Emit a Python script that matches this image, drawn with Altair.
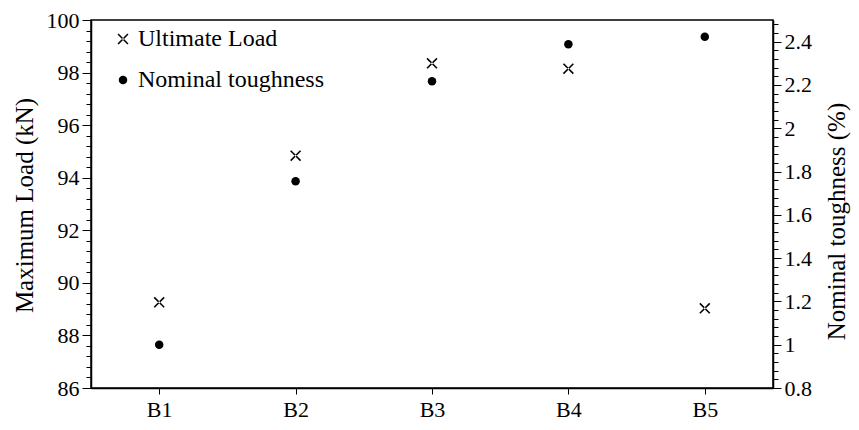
import altair as alt
import pandas as pd

categories = ["B1", "B2", "B3", "B4", "B5"]
ultimate_load = [89.26, 94.84, 98.35, 98.15, 89.03]
nominal_toughness = [1.00, 1.755, 2.217, 2.388, 2.423]
series_names = ["Ultimate Load", "Nominal toughness"]

left_ticks = [round(86 + 0.4 * i, 2) for i in range(36)]
right_ticks = [round(0.8 + 0.04 * i, 2) for i in range(43)]

df_load = pd.DataFrame({"cat": categories, "val": ultimate_load, "series": series_names[0]})
df_tough = pd.DataFrame({"cat": categories, "val": nominal_toughness, "series": series_names[1]})

FONT = "Times New Roman, Liberation Serif, serif"
XPATH = "M-1,-0.8L-0.8,-1L1,0.8L0.8,1Z M1,-0.8L0.8,-1L-1,0.8L-0.8,1Z"

shape_scale = alt.Scale(domain=series_names, range=[XPATH, "circle"])
size_scale = alt.Scale(domain=series_names, range=[121, 72])
legend = alt.Legend(
    title=None, orient="none", legendX=20, legendY=7, padding=0,
    labelFont=FONT, labelFontSize=24, labelColor="black", labelOffset=3,
    labelLimit=0, symbolFillColor="black", symbolStrokeWidth=0,
    symbolOpacity=1, rowPadding=17,
)

x_enc = alt.X("cat:N", sort=categories, title=None,
              scale=alt.Scale(paddingInner=0, paddingOuter=0),
              axis=alt.Axis(labelAngle=0, labelFont=FONT, labelFontSize=22,
                            labelColor="black", tickSize=6, tickColor="black",
                            labelPadding=5, domainColor="black", domainWidth=1.5))

major_left = "abs(datum.value/2 - round(datum.value/2)) < 0.01"
major_right = "abs(datum.value/0.2 - round(datum.value/0.2)) < 0.01"

shape_enc = alt.Shape("series:N", scale=shape_scale, legend=legend)
size_enc = alt.Size("series:N", scale=size_scale, legend=legend)

load_layer = alt.Chart(df_load).mark_point(
    filled=True, color="black", opacity=1
).encode(
    x=x_enc,
    y=alt.Y("val:Q", scale=alt.Scale(domain=[86, 100], zero=False, nice=False),
            axis=alt.Axis(orient="left", values=left_ticks,
                          labelExpr=major_left + " ? format(datum.value, '~g') : ''",
                          tickSize={"condition": {"test": major_left, "value": 9}, "value": 5},
                          labelFont=FONT, labelFontSize=22, labelColor="black",
                          labelPadding=3, labelOverlap=False, tickColor="black",
                          domainColor="black", domainWidth=1.5, grid=False,
                          title="Maximum Load (kN)", titleFont=FONT, titleFontSize=25,
                          titleFontWeight="normal", titleColor="black", titleAngle=270,
                          titleX=-67, titleY=185, titleAlign="center", titleBaseline="middle")),
    shape=shape_enc,
    size=size_enc,
)

tough_layer = alt.Chart(df_tough).mark_point(
    filled=True, color="black", opacity=1
).encode(
    x=x_enc,
    y=alt.Y("val:Q", scale=alt.Scale(domain=[0.8, 2.5], zero=False, nice=False),
            axis=alt.Axis(orient="right", values=right_ticks,
                          labelExpr=major_right + " ? format(datum.value, '~g') : ''",
                          tickSize={"condition": {"test": major_right, "value": 8}, "value": 5},
                          labelFont=FONT, labelFontSize=22, labelColor="black",
                          labelPadding=3, labelOverlap=False, tickColor="black",
                          domainColor="black", domainWidth=1.5, grid=False,
                          title="Nominal toughness (%)", titleFont=FONT, titleFontSize=25,
                          titleFontWeight="normal", titleColor="black", titleAngle=270,
                          titleX=63, titleY=201, titleAlign="center", titleBaseline="middle")),
    shape=shape_enc,
    size=size_enc,
)

chart = alt.layer(load_layer, tough_layer).resolve_scale(y="independent").properties(
    width=682, height=368,
    autosize=alt.AutoSizeParams(type="none"),
    padding={"left": 83, "top": 12, "right": 78, "bottom": 34},
).configure_view(stroke="black", strokeWidth=1.5)

chart.save("out.html", embed_options={"renderer": "svg", "actions": False})
